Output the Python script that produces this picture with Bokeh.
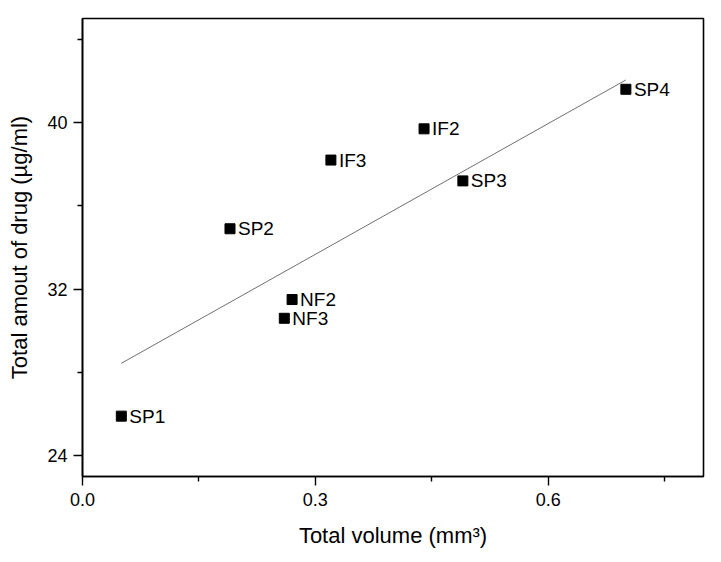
from bokeh.plotting import figure
from bokeh.models import FixedTicker, ColumnDataSource, Range1d
from bokeh.embed import file_html
from bokeh.resources import INLINE
from bokeh.core.properties import value

# ---- data ----
samples = ["SP1", "SP2", "NF2", "NF3", "IF3", "IF2", "SP3", "SP4"]
volume = [0.05, 0.19, 0.27, 0.26, 0.32, 0.44, 0.49, 0.70]
drug = [25.9, 34.9, 31.5, 30.6, 38.2, 39.7, 37.2, 41.6]

fit_x = [0.05, 0.70]
fit_intercept = 27.39
fit_slope = 20.94

x_ticks = [0.0, 0.3, 0.6]
x_minor = [0.15, 0.45, 0.75]
y_ticks = [24, 32, 40]
y_minor = [28, 36, 44]

FONT = "Liberation Sans"

fit_y = [fit_intercept + fit_slope * x for x in fit_x]

p = figure(width=705, height=554, output_backend="svg", toolbar_location=None,
           x_range=Range1d(0, 0.8), y_range=Range1d(23, 45),
           min_border_left=82, min_border_top=18, min_border_right=2, min_border_bottom=78)

p.grid.visible = False
p.outline_line_color = "black"
p.outline_line_width = 1.6
p.outline_line_alpha = 1.0
p.background_fill_color = "white"
p.border_fill_color = "white"

p.line(fit_x, fit_y, line_color="#707070", line_width=1)

src = ColumnDataSource(dict(x=volume, y=drug, t=samples))
p.scatter("x", "y", source=src, marker="square", size=10, fill_color="black", line_color="black")
p.text("x", "y", text="t", source=src, x_offset=8, text_baseline="middle",
       text_font=value(FONT), text_font_size="19px", text_color="black")

p.xaxis.ticker = FixedTicker(ticks=x_ticks, minor_ticks=x_minor)
p.yaxis.ticker = FixedTicker(ticks=y_ticks, minor_ticks=y_minor)
p.xaxis.major_label_overrides = {0.0: "0.0", 0.3: "0.3", 0.6: "0.6"}

for ax in (p.xaxis, p.yaxis):
    ax.axis_line_width = 1.6
    ax.axis_line_color = "black"
    ax.major_tick_line_width = 1.4
    ax.minor_tick_line_width = 1.4
    ax.major_tick_out = 9
    ax.major_tick_in = 0
    ax.minor_tick_out = 5
    ax.minor_tick_in = 0
    ax.major_label_text_font = FONT
    ax.major_label_text_font_size = "18px"
    ax.major_label_text_color = "black"
    ax.axis_label_text_font = FONT
    ax.axis_label_text_font_size = "22px"
    ax.axis_label_text_font_style = "normal"
    ax.axis_label_text_color = "black"

p.xaxis.axis_label = "Total volume (mm³)"
p.yaxis.axis_label = "Total amout of drug (µg/ml)"
p.xaxis.major_label_standoff = 7
p.yaxis.major_label_standoff = 6
p.xaxis.axis_label_standoff = 14
p.yaxis.axis_label_standoff = 12

open("out.html", "w").write(file_html(p, INLINE))
